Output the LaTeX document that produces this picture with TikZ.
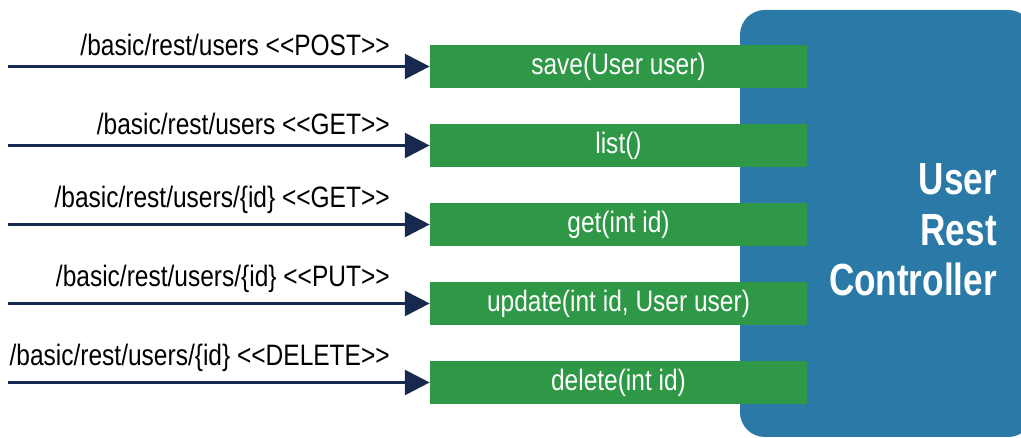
\documentclass[tikz,border=0pt]{standalone}
\usepackage{fontspec}
\usepackage{xcolor}
\usepackage{tikz}
\usetikzlibrary{positioning,calc,arrows.meta}
\newfontfamily\condfont{Liberation Sans}[FakeStretch=0.83]
\newfontfamily\condboldfont{Liberation Sans Bold}[FakeStretch=0.78]
\definecolor{ctrlblue}{HTML}{2A79A7}
\definecolor{methgreen}{HTML}{2E9846}
\definecolor{reqnavy}{HTML}{18294F}
\tikzset{
  method/.style={fill=methgreen, text=white, minimum width=9.425cm, minimum height=1.075cm,
    inner sep=0pt, font=\condfont\fontsize{21}{24}\selectfont},
  urilabel/.style={anchor=south east, inner sep=0pt, font=\condfont\fontsize{21}{24}\selectfont},
  request/.style={draw=reqnavy, line width=2.2pt, -{Triangle[length=0.62cm,width=0.62cm]}}
}
\begin{document}
\begin{tikzpicture}[x=0.025cm,y=0.025cm]
        \useasboundingbox (0,0) rectangle (1021,438);

        % Controller
        \fill[ctrlblue, rounded corners=0.62cm] (740,1) rectangle (1033,428);
        \node[anchor=east, align=right, text=white, inner sep=0pt,
          font=\condboldfont\fontsize{32}{36}\selectfont] (ctrl) at (997,208) {User\\Rest\\Controller};

        % Methods
        \node[method] (save) at (618.5,371.5) {save(User user)};
        \node[method] (list) at (618.5,292.5) {list()};
        \node[method] (get) at (618.5,213.5) {get(int id)};
        \node[method] (update) at (618.5,134.5) {update(int id, User user)};
        \node[method] (delete) at (618.5,55.5) {delete(int id)};

        % Requests
        \coordinate (in1) at (8,371.5);
        \coordinate (in2) at (8,292.5);
        \coordinate (in3) at (8,213.5);
        \coordinate (in4) at (8,134.5);
        \coordinate (in5) at (8,55.5);
        \draw[request] (in1) -- (save.west);
        \draw[request] (in2) -- (list.west);
        \draw[request] (in3) -- (get.west);
        \draw[request] (in4) -- (update.west);
        \draw[request] (in5) -- (delete.west);

        % URIs
        \node[urilabel] (uri1) at (390,382) {/basic/rest/users <{}<POST>{}>};
        \node[urilabel] (uri2) at (390,303) {/basic/rest/users <{}<GET>{}>};
        \node[urilabel] (uri3) at (390,224) {/basic/rest/users/\{id\} <{}<GET>{}>};
        \node[urilabel] (uri4) at (390,145) {/basic/rest/users/\{id\} <{}<PUT>{}>};
        \node[urilabel] (uri5) at (390,66) {/basic/rest/users/\{id\} <{}<DELETE>{}>};
    \end{tikzpicture}
\end{document}
